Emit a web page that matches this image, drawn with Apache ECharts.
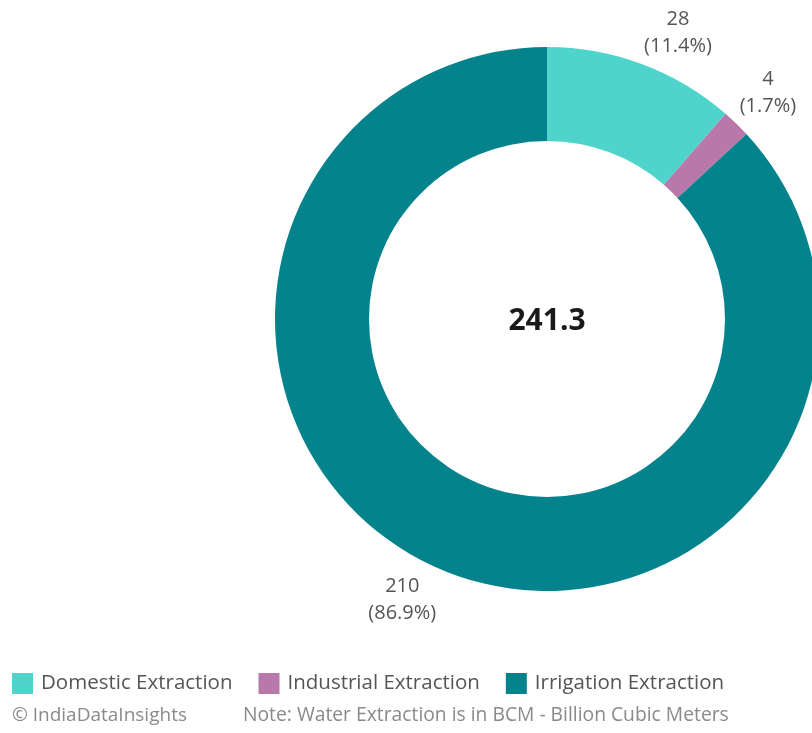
<!DOCTYPE html>
<html>
<head>
<meta charset="utf-8">
<style>
  html, body { margin: 0; padding: 0; background: #ffffff; }
  #chart { width: 812px; height: 733px; }
</style>
<script src="https://cdn.jsdelivr.net/npm/echarts@6/dist/echarts.min.js"></script>
</head>
<body>
<div id="chart"></div>
<script>
// Groundwater extraction by use (BCM)
const categories = ['Domestic Extraction', 'Industrial Extraction', 'Irrigation Extraction'];
const extraction = [27.5, 4.1, 209.7];
const sliceColors = ['#4fd4cb', '#b878a9', '#05838d'];
const footerLeft = '\u00a9 IndiaDataInsights';
const footerNote = 'Note: Water Extraction is in BCM - Billion Cubic Meters';

const total = extraction.reduce((a, b) => a + b, 0);
const FONT = '"Open Sans", Lato, sans-serif';

const chart = echarts.init(document.getElementById('chart'), null, { renderer: 'canvas' });

chart.setOption({
  animation: false,
  color: sliceColors,
  legend: {
    left: 12,
    top: 673,
    padding: 0,
    itemWidth: 21,
    itemHeight: 21,
    itemGap: 26,
    icon: 'rect',
    textStyle: { fontFamily: FONT, fontSize: 20.5, color: '#555555', padding: [0, 0, 0, 3] },
    data: categories
  },
  graphic: [
    { type: 'text', x: 547, y: 321, style: { text: total.toFixed(1), align: 'center', verticalAlign: 'middle', fontFamily: FONT, fontSize: 30, fontWeight: 'bold', fill: '#1a1a1a' } },
    { type: 'text', left: 12, top: 706, style: { text: footerLeft, fontFamily: FONT, fontSize: 19, fill: '#8a8a8a' } },
    { type: 'text', left: 243, top: 706, style: { text: footerNote, fontFamily: FONT, fontSize: 19.3, fill: '#8a8a8a' } }
  ],
  series: [{
    type: 'pie',
    center: [547, 319],
    radius: [178, 272],
    startAngle: 90,
    clockwise: true,
    avoidLabelOverlap: false,
    silent: true,
    itemStyle: { borderWidth: 0 },
    label: {
      show: true,
      position: 'outside',
      fontFamily: FONT,
      fontSize: 20,
      lineHeight: 27,
      color: '#555555',
      align: 'center',
      formatter: function (p) {
        return Math.round(p.value) + '\n(' + (p.value / total * 100).toFixed(1) + '%)';
      }
    },
    labelLine: { show: true, length: 10, length2: 0, lineStyle: { opacity: 0, width: 0 } },
    // put the label box just outside the ring, its nearest corner on the slice's mid-angle ray
    labelLayout: function (p) {
      const pts = p.labelLinePoints;
      if (!pts || pts.length < 2) return {};
      let dx = pts[1][0] - pts[0][0];
      let dy = pts[1][1] - pts[0][1];
      const len = Math.hypot(dx, dy) || 1;
      dx /= len; dy /= len;
      const gap = 5;
      const cx = pts[0][0] + dx * gap;
      const cy = pts[0][1] + dy * gap;
      const w = p.labelRect.width, h = p.labelRect.height;
      return {
        x: cx + Math.sign(dx) * w / 2,
        y: cy + Math.sign(dy) * h / 2,
        align: 'center',
        verticalAlign: 'middle'
      };
    },
    data: categories.map((name, i) => ({ name: name, value: extraction[i] }))
  }]
});
</script>
</body>
</html>
